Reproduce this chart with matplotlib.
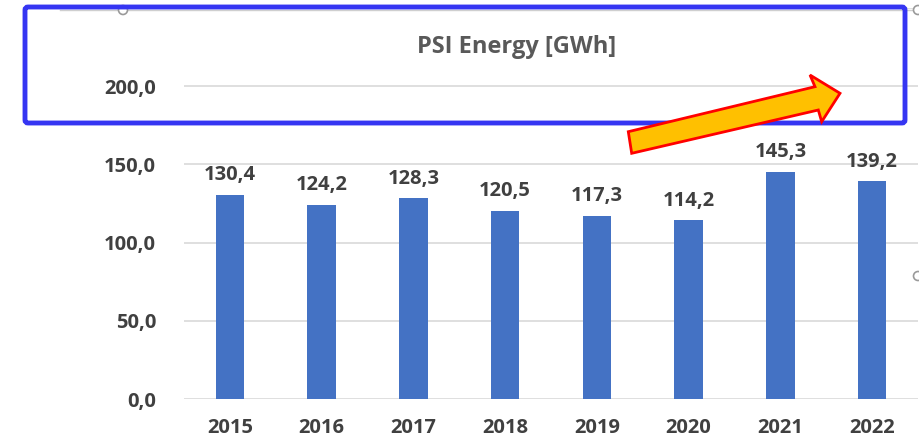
import matplotlib

matplotlib.use("Agg")
import matplotlib.pyplot as plt
from matplotlib.patches import Circle, FancyBboxPatch, Polygon

plt.rcParams["font.family"] = ["Open Sans", "DejaVu Sans"]

years = ["2015", "2016", "2017", "2018", "2019", "2020", "2021", "2022"]
energy_gwh = [130.4, 124.2, 128.3, 120.5, 117.3, 114.2, 145.3, 139.2]
y_ticks = [0, 50, 100, 150, 200]
title = "PSI Energy [GWh]"

BAR_COLOR = "#4472c4"
TEXT_DARK = "#404040"
GRID = "#d9d9d9"
LABEL_SIZE = 14.5

W, H = 920, 440
fig = plt.figure(figsize=(W / 100, H / 100), dpi=100)
fig.patch.set_facecolor("white")

# main chart axes, placed in pixel terms
ax = fig.add_axes([184 / W, (H - 399) / H, 734 / W, 391 / H])
x = range(len(years))
bars = ax.bar(x, energy_gwh, width=0.31, color=BAR_COLOR, zorder=2)
ax.set_xlim(-0.5, len(years) - 0.5)
ax.set_ylim(0, 250)
ax.set_yticks(y_ticks)
ax.set_yticklabels([f"{v:.1f}".replace(".", ",") for v in y_ticks])
ax.set_xticks(list(x))
ax.set_xticklabels(years)
ax.tick_params(axis="both", length=0, labelsize=LABEL_SIZE, labelcolor=TEXT_DARK)
ax.tick_params(axis="y", pad=20)
ax.tick_params(axis="x", pad=14)
for lab in ax.get_xticklabels() + ax.get_yticklabels():
    lab.set_fontweight("bold")
ax.grid(axis="y", color=GRID, linewidth=1.2, zorder=0)
ax.axhline(250, color=GRID, linewidth=1.2, zorder=0)
for s in ax.spines.values():
    s.set_visible(False)

for rect, v in zip(bars, energy_gwh):
    ax.annotate(
        f"{v:.1f}".replace(".", ","),
        (rect.get_x() + rect.get_width() / 2, v),
        xytext=(0, 7),
        textcoords="offset points",
        ha="center",
        va="bottom",
        fontsize=LABEL_SIZE,
        fontweight="bold",
        color=TEXT_DARK,
    )

# overlay axes in pixel coordinates for title and annotations
ov = fig.add_axes([0, 0, 1, 1], facecolor="none")
ov.set_xlim(0, W)
ov.set_ylim(H, 0)
ov.set_axis_off()

ov.text(517, 47, title, ha="center", va="center", fontsize=17,
        color="#595959", fontweight="bold")

# chart frame top edge and selection handles
ov.plot([60, 918], [10, 10], color="#cfcfcf", linewidth=1, zorder=1)
for cx, cy in [(123, 10), (918, 10), (918, 276)]:
    ov.add_patch(Circle((cx, cy), 4.5, facecolor="white", edgecolor="#9a9a9a",
                        linewidth=1.2, zorder=3))

# blue highlight box
ov.add_patch(FancyBboxPatch((25, 7), 880, 116,
                            boxstyle="round,pad=0,rounding_size=3",
                            facecolor="none", edgecolor="#3535f2",
                            linewidth=3.5, zorder=4))

# orange arrow
arrow_pts = [(631.7, 153.3), (628.3, 131.7), (815, 86.7), (810, 75),
             (840, 93.3), (821.7, 121.7), (818.3, 110)]
ov.add_patch(Polygon(arrow_pts, closed=True, facecolor="#ffc000",
                     edgecolor="#ff0000", linewidth=2, joinstyle="miter",
                     zorder=5))

fig.savefig("out.png", dpi=100)
